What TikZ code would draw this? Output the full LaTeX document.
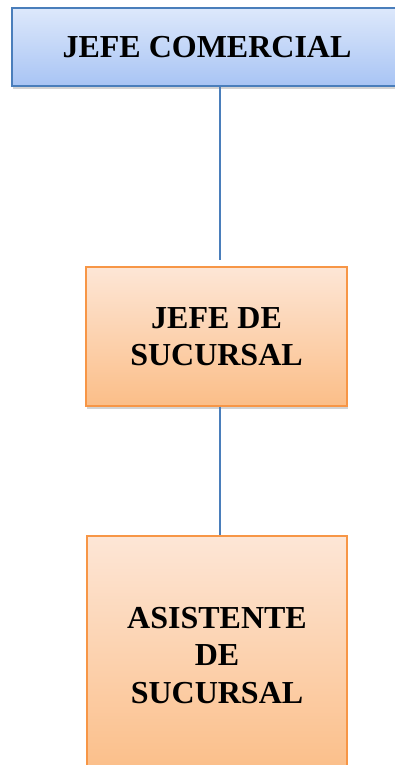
\documentclass[tikz,border=0pt]{standalone}
\usepackage{fontspec}
\setmainfont{Liberation Serif}
\usetikzlibrary{shadows,positioning}
\definecolor{bluetop}{HTML}{DDE8FB}
\definecolor{bluebot}{HTML}{A8C4F4}
\definecolor{blueline}{HTML}{4A7EBB}
\definecolor{orangetop}{HTML}{FDE6D6}
\definecolor{orangebot}{HTML}{FBBE88}
\definecolor{orangeline}{HTML}{F79646}
\tikzset{
  box/.style={rectangle, draw, line width=1pt, align=center,
    font=\fontsize{24}{28}\selectfont\bfseries,
    drop shadow={shadow xshift=1pt, shadow yshift=-2pt, opacity=0.35}},
  top box/.style={box, draw=blueline, top color=bluetop, bottom color=bluebot},
  unit box/.style={box, draw=orangeline, top color=orangetop, bottom color=orangebot},
  link/.style={draw=blueline, line width=0.9pt},
}
\begin{document}
\begin{tikzpicture}[x=0.75pt, y=0.75pt]
  \useasboundingbox (0,0) rectangle (395,-765);
  \clip (0,0) rectangle (395,-765);

  % Boxes
  \node[top box, minimum width=292.5pt, minimum height=58.5pt] (jefecom) at (207,-47) {JEFE COMERCIAL};
  \node[unit box, minimum width=195.75pt, minimum height=104.25pt] (jefesuc) at (216.5,-336.5) {JEFE DE\\SUCURSAL};
  \node[unit box, minimum width=195pt, minimum height=179.25pt] (asist) at (217,-655.5) {ASISTENTE\\DE\\SUCURSAL};

  % Lines
  \coordinate (lx) at (220,0);
  \draw[link, shorten >=5pt] (lx |- jefecom.south) -- (lx |- jefesuc.north);
  \draw[link] (lx |- jefesuc.south) -- (lx |- asist.north);
\end{tikzpicture}
\end{document}
